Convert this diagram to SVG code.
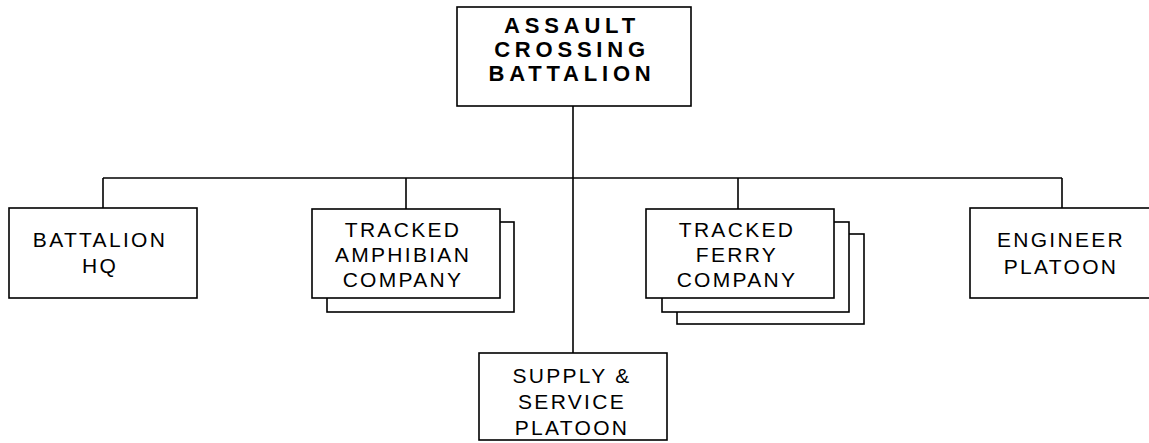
<svg xmlns="http://www.w3.org/2000/svg" width="1149" height="443" viewBox="0 0 1149 443">
  <style>
    .box { fill: #fff; stroke: #000; stroke-width: 1.6; }
    .conn { fill: none; stroke: #000; stroke-width: 1.6; }
    .lbl { font-family: "Liberation Sans", Arial, sans-serif; font-size: 21px; fill: #000; text-anchor: middle; letter-spacing: 2.3px; }
    .title { font-family: "Liberation Sans", Arial, sans-serif; font-size: 22px; font-weight: bold; fill: #000; text-anchor: middle; letter-spacing: 4.8px; }
  </style>
  <rect width="1149" height="443" fill="#fff"/>
  <g id="connectors">
    <path class="conn" d="M573,106 V353"/>
    <path class="conn" d="M103,178 H1062"/>
    <path class="conn" d="M103,178 V208"/>
    <path class="conn" d="M406,178 V209"/>
    <path class="conn" d="M738,178 V209"/>
    <path class="conn" d="M1062,178 V208"/>
  </g>
  <g id="assault-crossing-battalion">
    <rect class="box" x="457" y="7" width="234" height="99"/>
    <text class="title" x="572" y="33">ASSAULT</text>
    <text class="title" x="572" y="57">CROSSING</text>
    <text class="title" x="572" y="81">BATTALION</text>
  </g>
  <g id="battalion-hq">
    <rect class="box" x="9" y="208" width="188" height="90"/>
    <text class="lbl" x="100" y="247">BATTALION</text>
    <text class="lbl" x="100" y="273">HQ</text>
  </g>
  <g id="tracked-amphibian-company">
    <rect class="box" x="327" y="222" width="187" height="90"/>
    <rect class="box" x="312" y="209" width="188" height="89"/>
    <text class="lbl" x="403" y="237">TRACKED</text>
    <text class="lbl" x="403" y="262">AMPHIBIAN</text>
    <text class="lbl" x="403" y="287">COMPANY</text>
  </g>
  <g id="tracked-ferry-company">
    <rect class="box" x="677" y="234" width="187" height="90"/>
    <rect class="box" x="662" y="222" width="187" height="90"/>
    <rect class="box" x="646" y="209" width="188" height="89"/>
    <text class="lbl" x="737" y="237">TRACKED</text>
    <text class="lbl" x="737" y="262">FERRY</text>
    <text class="lbl" x="737" y="287">COMPANY</text>
  </g>
  <g id="engineer-platoon">
    <rect class="box" x="970" y="208" width="188" height="90"/>
    <text class="lbl" x="1061" y="247">ENGINEER</text>
    <text class="lbl" x="1061" y="274">PLATOON</text>
  </g>
  <g id="supply-service-platoon">
    <rect class="box" x="479" y="353" width="188" height="87"/>
    <text class="lbl" x="572" y="383">SUPPLY &amp;</text>
    <text class="lbl" x="572" y="409">SERVICE</text>
    <text class="lbl" x="572" y="435">PLATOON</text>
  </g>
</svg>
